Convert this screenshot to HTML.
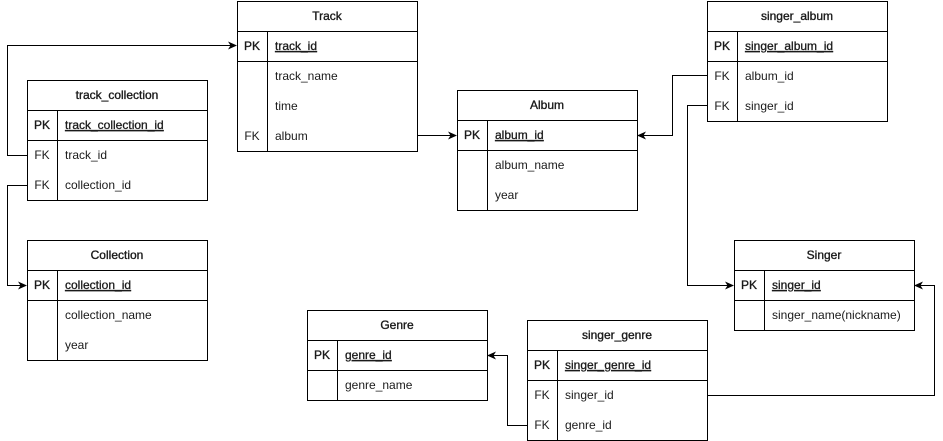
<!DOCTYPE html>
<html><head><meta charset="utf-8"><style>
html,body{margin:0;padding:0;background:#fff;}
svg{display:block;}
text{font-family:"Liberation Sans",Arial,sans-serif;font-size:12px;fill:#1a1a1a;}
.h{font-size:12px;stroke:#1a1a1a;stroke-width:0.35;}
.u{text-decoration:underline;stroke:#1a1a1a;stroke-width:0.3;}
</style></head><body>
<svg width="943" height="441" viewBox="0 0 943 441" xmlns="http://www.w3.org/2000/svg">
<defs>
<marker id="a" markerWidth="10" markerHeight="10" refX="8" refY="4" orient="auto" markerUnits="userSpaceOnUse">
<path d="M0,0 L9,4 L0,8 L2.5,4 Z" fill="#000"/>
</marker>
</defs>
<g fill="none" stroke="#000" stroke-width="1">
<!-- connectors -->
<path d="M27.5,155.5 H7.5 V45.5 H236" marker-end="url(#a)"/>
<path d="M27.5,185.5 H7.5 V285.5 H26" marker-end="url(#a)"/>
<path d="M417.5,135.5 H456" marker-end="url(#a)"/>
<path d="M707.5,75.5 H672.5 V135.5 H638" marker-end="url(#a)"/>
<path d="M707.5,105.5 H687.5 V285.5 H733" marker-end="url(#a)"/>
<path d="M707.5,395.5 H934.5 V285.5 H915" marker-end="url(#a)"/>
<path d="M527.5,425.5 H507.5 V355.5 H488" marker-end="url(#a)"/>
</g>
<g fill="#fff" stroke="#000" stroke-width="1">
<!-- Track -->
<rect x="237.5" y="1.5" width="180" height="150"/>
<path d="M237.5,31.5 H417.5 M237.5,61.5 H417.5 M267.5,31.5 V151.5"/>
<!-- track_collection -->
<rect x="27.5" y="80.5" width="180" height="120"/>
<path d="M27.5,110.5 H207.5 M27.5,140.5 H207.5 M57.5,110.5 V200.5"/>
<!-- Collection -->
<rect x="27.5" y="240.5" width="180" height="120"/>
<path d="M27.5,270.5 H207.5 M27.5,300.5 H207.5 M57.5,270.5 V360.5"/>
<!-- Album -->
<rect x="457.5" y="90.5" width="180" height="120"/>
<path d="M457.5,120.5 H637.5 M457.5,150.5 H637.5 M487.5,120.5 V210.5"/>
<!-- singer_album -->
<rect x="707.5" y="1.5" width="180" height="120"/>
<path d="M707.5,31.5 H887.5 M707.5,61.5 H887.5 M737.5,31.5 V121.5"/>
<!-- Singer -->
<rect x="734.5" y="240.5" width="180" height="90"/>
<path d="M734.5,270.5 H914.5 M734.5,300.5 H914.5 M764.5,270.5 V330.5"/>
<!-- Genre -->
<rect x="307.5" y="310.5" width="180" height="90"/>
<path d="M307.5,340.5 H487.5 M307.5,370.5 H487.5 M337.5,340.5 V400.5"/>
<!-- singer_genre -->
<rect x="527.5" y="320.5" width="180" height="120"/>
<path d="M527.5,350.5 H707.5 M527.5,380.5 H707.5 M557.5,350.5 V440.5"/>
</g>
<g>
<!-- Track -->
<text class="h" x="327" y="20" text-anchor="middle">Track</text>
<text class="h" x="252" y="50" text-anchor="middle">PK</text>
<text class="u" x="275" y="50">track_id</text>
<text x="275" y="80">track_name</text>
<text x="275" y="110">time</text>
<text x="252" y="140" text-anchor="middle">FK</text>
<text x="275" y="140">album</text>
<!-- track_collection -->
<text class="h" x="117" y="99" text-anchor="middle">track_collection</text>
<text class="h" x="42" y="129" text-anchor="middle">PK</text>
<text class="u" x="65" y="129">track_collection_id</text>
<text x="42" y="159" text-anchor="middle">FK</text>
<text x="65" y="159">track_id</text>
<text x="42" y="189" text-anchor="middle">FK</text>
<text x="65" y="189">collection_id</text>
<!-- Collection -->
<text class="h" x="117" y="259" text-anchor="middle">Collection</text>
<text class="h" x="42" y="289" text-anchor="middle">PK</text>
<text class="u" x="65" y="289">collection_id</text>
<text x="65" y="319">collection_name</text>
<text x="65" y="349">year</text>
<!-- Album -->
<text class="h" x="547" y="109" text-anchor="middle">Album</text>
<text class="h" x="472" y="139" text-anchor="middle">PK</text>
<text class="u" x="495" y="139">album_id</text>
<text x="495" y="169">album_name</text>
<text x="495" y="199">year</text>
<!-- singer_album -->
<text class="h" x="797" y="20" text-anchor="middle">singer_album</text>
<text class="h" x="722" y="50" text-anchor="middle">PK</text>
<text class="u" x="745" y="50">singer_album_id</text>
<text x="722" y="80" text-anchor="middle">FK</text>
<text x="745" y="80">album_id</text>
<text x="722" y="110" text-anchor="middle">FK</text>
<text x="745" y="110">singer_id</text>
<!-- Singer -->
<text class="h" x="824" y="259" text-anchor="middle">Singer</text>
<text class="h" x="749" y="289" text-anchor="middle">PK</text>
<text class="u" x="772" y="289">singer_id</text>
<text x="772" y="319">singer_name(nickname)</text>
<!-- Genre -->
<text class="h" x="397" y="329" text-anchor="middle">Genre</text>
<text class="h" x="322" y="359" text-anchor="middle">PK</text>
<text class="u" x="345" y="359">genre_id</text>
<text x="345" y="389">genre_name</text>
<!-- singer_genre -->
<text class="h" x="617" y="339" text-anchor="middle">singer_genre</text>
<text class="h" x="542" y="369" text-anchor="middle">PK</text>
<text class="u" x="565" y="369">singer_genre_id</text>
<text x="542" y="399" text-anchor="middle">FK</text>
<text x="565" y="399">singer_id</text>
<text x="542" y="429" text-anchor="middle">FK</text>
<text x="565" y="429">genre_id</text>
</g>
</svg>
</body></html>
